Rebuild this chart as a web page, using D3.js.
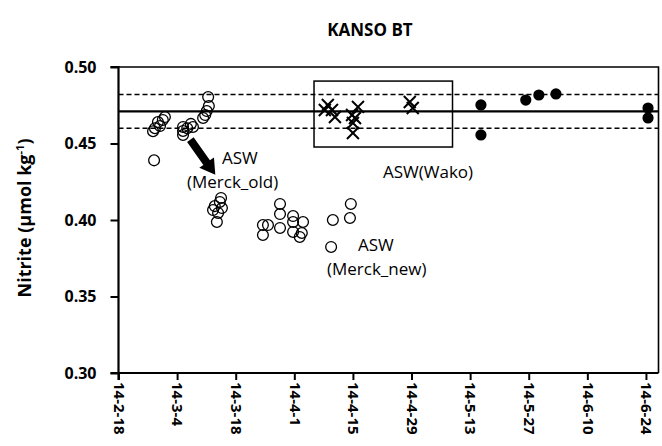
<!DOCTYPE html>
<html>
<head>
<meta charset="utf-8">
<script src="https://cdn.jsdelivr.net/npm/d3@7"></script>
<style>
  html, body { margin: 0; padding: 0; background: #fff; }
  svg { display: block; font-family: "Open Sans", "Noto Sans", sans-serif; }
</style>
</head>
<body>
<svg id="chart" width="662" height="446"></svg>
<script>
// ASW reference seawater, nitrite measured against the KANSO BT standard.
const merckDates = [
  "2014-02-26T06:00", "2014-02-26T12:00", "2014-02-26T17:00", "2014-02-27T10:00",
  "2014-02-27T22:00", "2014-02-28T14:00", "2014-03-01T02:00",
  "2014-03-05T10:00", "2014-03-05T10:00", "2014-03-05T10:00", "2014-03-06T10:00",
  "2014-03-07T07:00", "2014-03-07T19:00",
  "2014-03-10T05:00", "2014-03-10T17:00", "2014-03-11T02:00", "2014-03-11T14:00",
  "2014-03-11T10:00",
  "2014-03-12T14:00", "2014-03-13T00:00", "2014-03-13T19:00", "2014-03-14T05:00",
  "2014-03-14T12:00", "2014-03-14T17:00", "2014-03-13T12:00",
  "2014-03-24T12:00", "2014-03-25T17:00", "2014-03-24T12:00",
  "2014-03-28T14:00", "2014-03-28T14:00", "2014-03-28T14:00",
  "2014-03-31T17:00", "2014-03-31T17:00", "2014-03-31T17:00",
  "2014-04-03T02:00", "2014-04-02T19:00", "2014-04-02T07:00",
  "2014-04-10T05:00", "2014-04-14T07:00", "2014-04-14T12:00", "2014-04-09T19:00"
];
const merckValues = [
  0.458, 0.439, 0.460, 0.464,
  0.4614, 0.4654, 0.4673,
  0.4608, 0.4556, 0.4582, 0.460,
  0.4628, 0.4608,
  0.4667, 0.4686, 0.4712, 0.4745,
  0.4804,
  0.4065, 0.4091, 0.4046, 0.4118,
  0.4144, 0.4078, 0.3987,
  0.3967, 0.3967, 0.3902,
  0.4105, 0.4039, 0.3948,
  0.4026, 0.3987, 0.3922,
  0.3987, 0.3915, 0.3889,
  0.400, 0.4013, 0.4105, 0.3824
];

const wakoDates = [
  "2014-04-09T00:00", "2014-04-08T07:00", "2014-04-10T00:00", "2014-04-10T17:00",
  "2014-04-16T05:00", "2014-04-14T19:00", "2014-04-15T12:00", "2014-04-15T00:00",
  "2014-04-15T00:00", "2014-04-28T14:00", "2014-04-29T07:00"
];
const wakoValues = [
  0.4752, 0.4719, 0.4719, 0.4673,
  0.4739, 0.4686, 0.4667, 0.4634,
  0.4569, 0.4771, 0.4732
];

const kansoDates = [
  "2014-05-15T14:00", "2014-05-15T14:00", "2014-05-26T07:00", "2014-05-29T10:00",
  "2014-06-02T12:00", "2014-06-24T12:00", "2014-06-24T12:00"
];
const kansoValues = [0.4752, 0.4556, 0.4784, 0.4817, 0.4824, 0.4732, 0.4667];

// Certified value (solid) and its uncertainty band (dashed).
const refMean = 0.471;
const refBand = [0.482, 0.460];

// Frame around the Wako period: [start, end] dates and [low, high] values.
const wakoBoxDates = ["2014-04-05T17:00", "2014-05-08T19:00"];
const wakoBoxValues = [0.4477, 0.4908];

// Arrow from the early Merck cluster down to the decayed one.
const arrowDates = ["2014-03-07T04:00", "2014-03-13T03:00"];
const arrowValues = [0.4525, 0.4295];

const xTickDates = ["2014-02-18", "2014-03-04", "2014-03-18", "2014-04-01", "2014-04-15",
  "2014-04-29", "2014-05-13", "2014-05-27", "2014-06-10", "2014-06-24"];
const yTicks = [0.30, 0.35, 0.40, 0.45, 0.50];
const xDomain = ["2014-02-18", "2014-06-27"];
const yDomain = [0.30, 0.50];

const parse = s => new Date(s.length > 10 ? s : s + "T00:00");

const svg = d3.select("#chart");
const m = { left: 118.5, right: 658.5, top: 67, bottom: 373 };

const x = d3.scaleTime().domain(xDomain.map(parse)).range([m.left, m.right]);
const y = d3.scaleLinear().domain(yDomain).range([m.bottom, m.top]);

// Plot frame (top and right edges)
svg.append("path")
  .attr("d", `M${m.left},${m.top}H${m.right}V${m.bottom}`)
  .attr("fill", "none").attr("stroke", "#000").attr("stroke-width", 1.6);

// Reference lines
svg.append("line")
  .attr("x1", m.left).attr("x2", m.right)
  .attr("y1", y(refMean)).attr("y2", y(refMean))
  .attr("stroke", "#000").attr("stroke-width", 2.4);
svg.selectAll(".band").data(refBand).join("line")
  .attr("class", "band")
  .attr("x1", m.left).attr("x2", m.right)
  .attr("y1", d => y(d)).attr("y2", d => y(d))
  .attr("stroke", "#000").attr("stroke-width", 1.5)
  .attr("stroke-dasharray", "5,3");

// Wako box
svg.append("rect")
  .attr("x", x(parse(wakoBoxDates[0])))
  .attr("y", y(wakoBoxValues[1]))
  .attr("width", x(parse(wakoBoxDates[1])) - x(parse(wakoBoxDates[0])))
  .attr("height", y(wakoBoxValues[0]) - y(wakoBoxValues[1]))
  .attr("fill", "none").attr("stroke", "#000").attr("stroke-width", 1.5);

// Y axis
const yAxis = svg.append("g")
  .attr("transform", `translate(${m.left},0)`)
  .call(d3.axisLeft(y).tickValues(yTicks).tickFormat(d3.format(".2f")).tickSize(8).tickPadding(14));
// X axis
const xAxis = svg.append("g")
  .attr("transform", `translate(0,${m.bottom})`)
  .call(d3.axisBottom(x).tickValues(xTickDates.map(parse))
    .tickFormat(d => `${String(d.getFullYear()).slice(2)}-${d.getMonth() + 1}-${d.getDate()}`)
    .tickSize(7));
[yAxis, xAxis].forEach(g => {
  g.select(".domain").attr("stroke-width", 2.2);
  g.selectAll(".tick line").attr("stroke-width", 2);
  g.selectAll("text").attr("font-weight", 700)
    .attr("font-family", "'Open Sans', sans-serif").attr("fill", "#000");
});
yAxis.selectAll("text").attr("font-size", 16);
xAxis.selectAll("text").attr("font-size", 15);
yAxis.select(".domain").attr("d", `M-8,${m.bottom}H0V${m.top}H-8`);
xAxis.select(".domain").attr("d", `M${m.left},7V0H${m.right}`);
xAxis.selectAll(".tick text")
  .attr("transform", "rotate(90)")
  .attr("text-anchor", "start")
  .attr("x", 9).attr("y", 0).attr("dy", "0.35em");

// Markers
const merck = merckDates.map((d, i) => ({ date: parse(d), value: merckValues[i] }));
const wako = wakoDates.map((d, i) => ({ date: parse(d), value: wakoValues[i] }));
const kanso = kansoDates.map((d, i) => ({ date: parse(d), value: kansoValues[i] }));

svg.append("g").selectAll("circle").data(merck).join("circle")
  .attr("cx", d => x(d.date)).attr("cy", d => y(d.value)).attr("r", 5.4)
  .attr("fill", "none").attr("stroke", "#000").attr("stroke-width", 1.3);

const cross = d3.symbol().type(d3.symbolX).size(95);
svg.append("g").selectAll("path").data(wako).join("path")
  .attr("transform", d => `translate(${x(d.date)},${y(d.value)})`)
  .attr("d", cross)
  .attr("fill", "none").attr("stroke", "#000").attr("stroke-width", 2);

svg.append("g").selectAll("circle").data(kanso).join("circle")
  .attr("cx", d => x(d.date)).attr("cy", d => y(d.value)).attr("r", 5.6)
  .attr("fill", "#000");

// Arrow
{
  const x0 = x(parse(arrowDates[0])), y0 = y(arrowValues[0]);
  const x1 = x(parse(arrowDates[1])), y1 = y(arrowValues[1]);
  const len = Math.hypot(x1 - x0, y1 - y0);
  const ang = Math.atan2(y1 - y0, x1 - x0) * 180 / Math.PI;
  const sw = 4, hw = 9, hl = 15;
  svg.append("path")
    .attr("transform", `translate(${x0},${y0}) rotate(${ang})`)
    .attr("d", `M0,${-sw}L${len - hl},${-sw}L${len - hl},${-hw}L${len},0L${len - hl},${hw}L${len - hl},${sw}L0,${sw}Z`)
    .attr("fill", "#000");
}

// Annotations
const notes = [
  { t: "ASW", x: 222, y: 164 },
  { t: "(Merck_old)", x: 187, y: 188 },
  { t: "ASW(Wako)", x: 383, y: 178 },
  { t: "ASW", x: 358, y: 251 },
  { t: "(Merck_new)", x: 327, y: 275 }
];
svg.append("g").selectAll("text").data(notes).join("text")
  .attr("x", d => d.x).attr("y", d => d.y)
  .attr("font-size", 17).attr("fill", "#000").text(d => d.t);

// Title
svg.append("text")
  .attr("x", 370).attr("y", 36).attr("text-anchor", "middle")
  .attr("font-size", 17).attr("font-weight", 700).text("KANSO BT");

// Y axis title
const yt = svg.append("text")
  .attr("transform", `translate(31,${(m.top + m.bottom) / 2 - 2}) rotate(-90)`)
  .attr("text-anchor", "middle")
  .attr("font-size", 18).attr("font-weight", 700);
yt.append("tspan").text("Nitrite  (\u00b5mol kg");
yt.append("tspan").attr("font-size", 11).attr("dy", -7).text("-1");
yt.append("tspan").attr("dy", 7).text(")");
</script>
</body>
</html>
